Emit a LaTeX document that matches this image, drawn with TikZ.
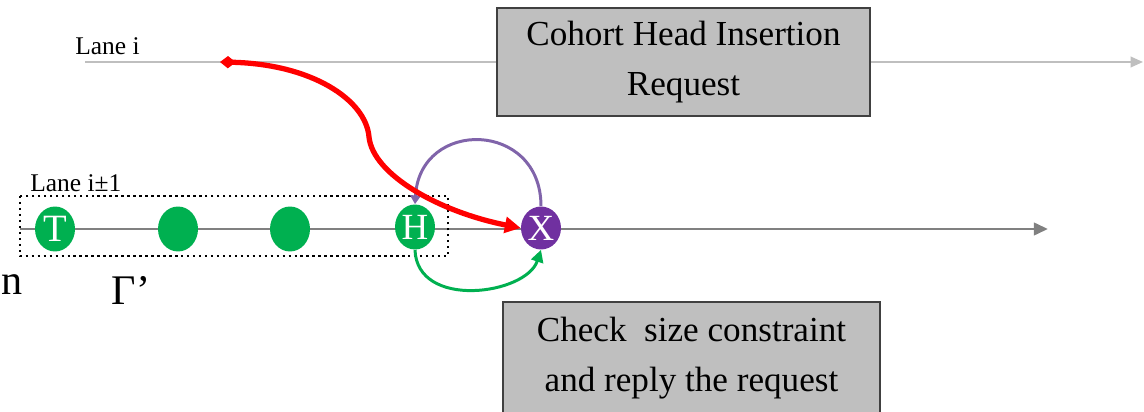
\documentclass[tikz,border=0pt]{standalone}
\usepackage{fontspec}
\setmainfont{Liberation Serif}
\usetikzlibrary{positioning, shapes.geometric, arrows.meta}
\definecolor{vgreen}{RGB}{0,176,80}
\definecolor{vpurple}{RGB}{112,48,160}
\definecolor{lpurple}{RGB}{128,100,170}
\tikzset{
    car/.style={ellipse, fill=vgreen, text=white, inner sep=0pt, minimum width=0.8cm, minimum height=0.9cm, font=\fontsize{22}{22}\selectfont},
    xcar/.style={car, fill=vpurple, minimum height=0.86cm},
    msg/.style={rectangle, draw=black!75, fill=gray!50, line width=1pt, align=center, font=\fontsize{20}{28.5}\selectfont},
    lane/.style={draw=gray!50, line width=1pt, -{Triangle[length=7pt,width=6pt]}},
    blane/.style={draw=gray, line width=1.7pt, -{Triangle[length=8pt,width=7pt]}},
    lbl/.style={font=\fontsize{14.5}{14.5}\selectfont, inner sep=0pt},
}
\begin{document}
\begin{tikzpicture}[x=0.02cm, y=-0.02cm]
\useasboundingbox (0,0) rectangle (1144,412);
% the two lanes
\coordinate (a0) at (85,62);
\coordinate (a1) at (1143,62);
\coordinate (b0) at (20,229);
\coordinate (b1) at (1048,229);
\draw[lane] (a0) -- (a1);
\draw[blane] (b0) -- (b1);
\node[lbl, anchor=west] (li) at (75,46) {Lane i};
\node[lbl, anchor=west] (lj) at (30,183) {Lane i±1};
% cohort on lane i+-1
\node[car] (T) at (55,229) {T};
\node[car] (c2) at (178,229) {};
\node[car] (c3) at (290,229) {};
\node[car, font=\fontsize{21}{21}\selectfont] (H) at (415,227) {H};
\node[xcar, font=\fontsize{21}{21}\selectfont] (X) at (541,228) {X};
\draw[dotted, line width=1.4pt] (20,196) rectangle (448,256);
\node[font=\fontsize{24}{24}\selectfont, inner sep=0pt, anchor=base] (g) at (131,304) {Γ’};
\node[font=\fontsize{24}{24}\selectfont, inner sep=0pt, anchor=base west] (n) at (1,295) {n};
% messages
\node[msg, minimum width=7.46cm, minimum height=2.16cm] (req) at (683.5,62) {Cohort Head Insertion\\Request};
\node[msg, minimum width=7.54cm, minimum height=2.24cm] (rep) at (691.5,358) {Check\ \ size constraint\\and reply the request};
\coordinate (r0) at (220,62);
\draw[lpurple, line width=1.7pt, -{Triangle[length=5pt,width=6pt]}] (X.north) .. controls +(0,-86) and +(5,-86) .. (H.north);
\draw[vgreen, line width=1.7pt, -{Triangle[length=7pt,width=7pt]}] (H.south) .. controls +(2,60) and +(-15,45) .. (X.south);
\draw[red, line width=3pt, {Diamond[length=9pt,width=7pt]}-{Triangle[length=9pt,width=9pt]}] (r0) .. controls (312,64) and (366,100) .. (369,137) .. controls (373,175) and (440,212) .. (X.west);
\end{tikzpicture}
\end{document}
